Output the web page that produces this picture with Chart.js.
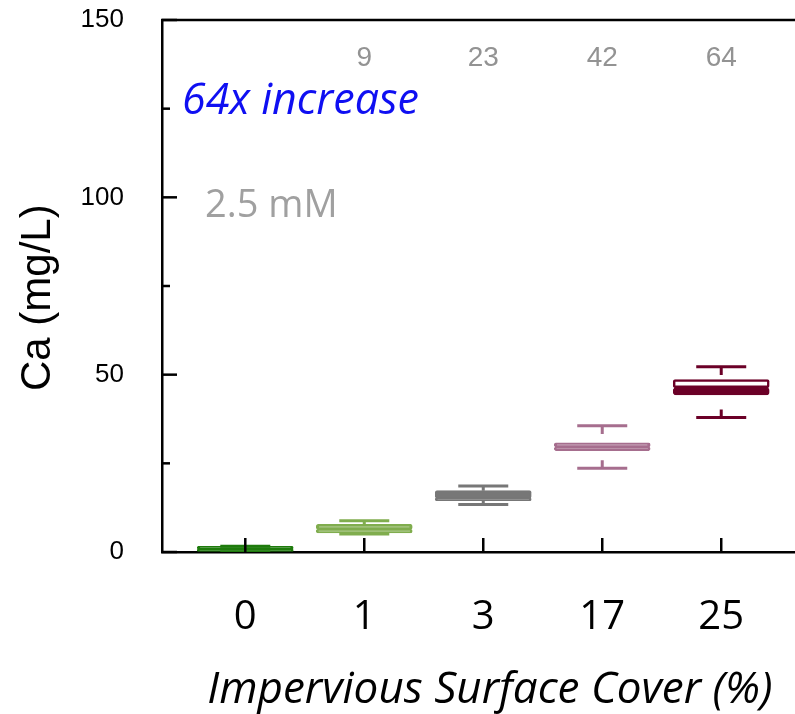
<!DOCTYPE html>
<html>
<head>
<meta charset="utf-8">
<script src="https://cdn.jsdelivr.net/npm/chart.js@4"></script>
<style>
  html, body { margin: 0; padding: 0; background: #fff; }
  #wrap { width: 795px; height: 714px; position: relative; }
</style>
</head>
<body>
<div id="wrap"><canvas id="c" width="795" height="714"></canvas></div>
<script>
// ---- data ----
const categories = ['0', '1', '3', '17', '25'];
const whiskerMin = [0, 5.1, 13.4, 23.6, 37.9];
const q1 = [0, 5.4, 14.5, 28.6, 44.3];
const median = [0.8, 6.4, 15.2, 29.6, 46.3];
const q3 = [1.6, 7.8, 17.3, 30.8, 48.6];
const whiskerMax = [1.6, 8.8, 18.6, 35.6, 52.2];
const foldLabels = ['', '9', '23', '42', '64'];
const yTickValues = [0, 25, 50, 75, 100, 125, 150];
const yTickLabels = ['0', '', '50', '', '100', '', '150'];
const annotationMain = '64x increase';
const annotationConc = '2.5 mM';

// ---- styles ----
const boxColors = ['#1e7b0c', '#80ad4e', '#777777', '#a66e8e', '#6b0027'];
const upperFill = ['#1e7b0c', '#80ad4e', '#777777', '#a66e8e', '#ffffff'];
const STUB = 2.3;

const datasets = [];
datasets.push({
  type: 'bar', grouped: false, barThickness: 96,
  data: categories.map((c, i) => ({ x: i, y: [q1[i], median[i]] })),
  backgroundColor: boxColors, borderColor: boxColors, borderWidth: 2, borderRadius: 3, borderSkipped: false,
  order: 2
});
datasets.push({
  type: 'bar', grouped: false, barThickness: 96,
  data: categories.map((c, i) => ({ x: i, y: [median[i], q3[i]] })),
  backgroundColor: upperFill, borderColor: boxColors, borderWidth: 2.5, borderRadius: 2, borderSkipped: false,
  order: 2
});
categories.forEach((c, i) => {
  datasets.push({
    type: 'line',
    data: [
      { x: i, y: whiskerMax[i] }, { x: i, y: Math.max(q3[i], whiskerMax[i] - STUB) },
      { x: i, y: null },
      { x: i, y: Math.min(q1[i], whiskerMin[i] + STUB) }, { x: i, y: whiskerMin[i] }
    ],
    borderColor: boxColors[i], borderWidth: 3, pointRadius: 0, spanGaps: false, order: 1
  });
});
datasets.push({
  type: 'scatter',
  data: categories.map((c, i) => ({ x: i, y: whiskerMax[i] })).concat(categories.map((c, i) => ({ x: i, y: whiskerMin[i] }))),
  pointStyle: 'line', pointRadius: 25, pointHoverRadius: 25,
  pointBorderColor: boxColors.concat(boxColors), pointBorderWidth: 3, order: 1
});

const decor = {
  id: 'decor',
  afterDraw(chart) {
    const ctx = chart.ctx, ca = chart.chartArea;
    const xs = chart.scales.x, ys = chart.scales.y;
    ctx.save();
    ctx.strokeStyle = '#000'; ctx.lineWidth = 2.5; ctx.lineCap = 'butt';
    // top frame line
    ctx.beginPath(); ctx.moveTo(ca.left - 1, ca.top); ctx.lineTo(ca.right, ca.top); ctx.stroke();
    // inward y ticks
    ys.ticks.forEach(t => {
      const y = ys.getPixelForValue(t.value);
      const len = (t.value % 50 === 0) ? 15 : 8;
      ctx.beginPath(); ctx.moveTo(ca.left, y); ctx.lineTo(ca.left + len, y); ctx.stroke();
    });
    // inward x ticks
    xs.ticks.forEach(t => {
      const x = xs.getPixelForValue(t.value);
      ctx.beginPath(); ctx.moveTo(x, ca.bottom); ctx.lineTo(x, ca.bottom - 14); ctx.stroke();
    });
    // fold labels
    ctx.fillStyle = '#939393';
    ctx.font = '28px "Liberation Sans", Arial, sans-serif';
    ctx.textAlign = 'center'; ctx.textBaseline = 'middle';
    foldLabels.forEach((s, i) => { if (s) ctx.fillText(s, xs.getPixelForValue(i), 58); });
    // annotations
    ctx.textAlign = 'left'; ctx.textBaseline = 'alphabetic';
    ctx.fillStyle = '#0f0ff2';
    ctx.font = 'italic 43px "Open Sans", sans-serif';
    ctx.fillText(annotationMain, 182, 114);
    ctx.fillStyle = '#a0a0a0';
    ctx.font = '38px "Open Sans", sans-serif';
    ctx.fillText(annotationConc, 205, 217);
    ctx.restore();
  }
};

function zeroPad(s) { s.paddingTop = 0; s.paddingBottom = 0; s.paddingLeft = 0; s.paddingRight = 0; }

new Chart(document.getElementById('c'), {
  type: 'bar',
  data: { datasets },
  options: {
    responsive: false, animation: false,
    layout: { autoPadding: false, padding: { top: 20, right: 0, left: 0, bottom: 0 } },
    plugins: { legend: { display: false }, tooltip: { enabled: false } },
    scales: {
      x: {
        type: 'linear', min: -0.7, max: 4.62, offset: false,
        afterBuildTicks: s => { s.ticks = categories.map((c, i) => ({ value: i })); },
        afterFit: s => { s.height = 162; zeroPad(s); },
        grid: { drawOnChartArea: false, drawTicks: false },
        border: { display: true, color: '#000', width: 2.5 },
        ticks: { callback: v => categories[v], color: '#000', padding: 42, maxRotation: 0,
                 font: { family: '"Open Sans", sans-serif', size: 40 } },
        title: { display: true, text: '  Impervious Surface Cover (%)', color: '#000',
                 font: { family: '"Open Sans", sans-serif', size: 44, style: 'italic' }, padding: { top: 0, bottom: -3 } }
      },
      y: {
        min: 0, max: 150,
        afterBuildTicks: s => { s.ticks = yTickValues.map(v => ({ value: v })); },
        afterFit: s => { s.width = 162; zeroPad(s); },
        grid: { drawOnChartArea: false, drawTicks: false },
        border: { display: true, color: '#000', width: 2.5 },
        ticks: { callback: (v, idx) => yTickLabels[idx], color: '#000', padding: 38,
                 font: { family: '"Liberation Sans", Arial, sans-serif', size: 26 } },
        title: { display: true, text: 'Ca (mg/L)  ', color: '#000',
                 font: { family: '"Liberation Sans", Arial, sans-serif', size: 42 }, padding: { top: 13, bottom: 0 } }
      }
    }
  },
  plugins: [decor]
});
</script>
</body>
</html>
